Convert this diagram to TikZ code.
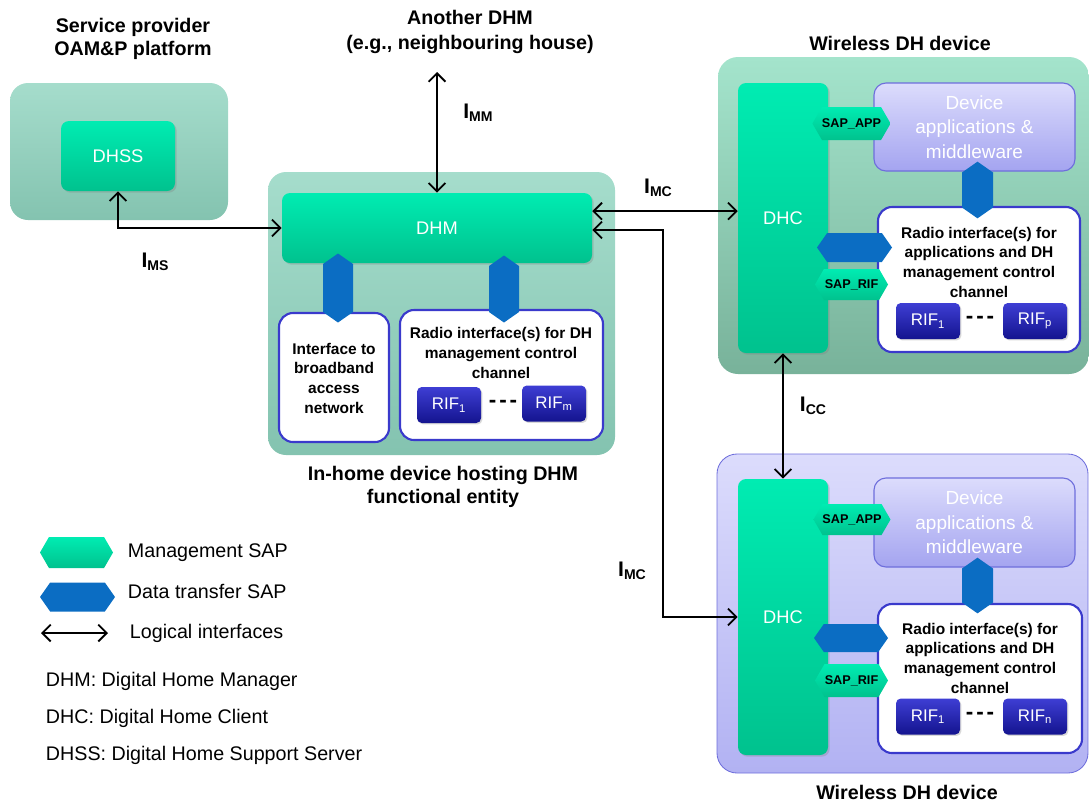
\documentclass[tikz,border=0pt]{standalone}
\usepackage{fontspec}
\setmainfont{Liberation Sans}
\usetikzlibrary{shapes.symbols, arrows.meta, shadows}

\definecolor{outerteal}{HTML}{8FD4BF}
\definecolor{mgttop}{HTML}{00ECB2}
\definecolor{mgtbot}{HTML}{00C28E}
\definecolor{datablue}{HTML}{0B6DC3}
\definecolor{rifblue}{HTML}{1C1CCC}
\definecolor{radioedge}{HTML}{3A3ACC}
\definecolor{lavtop}{HTML}{DCDCFC}
\definecolor{lavbot}{HTML}{A4A4F0}
\definecolor{lavedge}{HTML}{6E6EDC}
\definecolor{devtop}{HTML}{A4E4CC}
\definecolor{devbot}{HTML}{78B29A}

\newcommand{\pxl}{0.025cm}
\newcommand{\ifsub}[2]{\textbf{#1}\raisebox{-2pt}{\fontsize{10}{10}\selectfont\bfseries #2}}

\tikzset{
  sz/.style 2 args={minimum width=#1*\pxl, minimum height=#2*\pxl, inner sep=0pt},
  platform/.style={rounded corners=0.45cm, top color=outerteal!80!white, bottom color=outerteal!92!black},
  entity/.style={rounded corners=0.2cm, top color=mgttop, bottom color=mgtbot, text=white,
    font=\fontsize{13}{15}\selectfont, drop shadow={opacity=0.3, shadow xshift=1.2pt, shadow yshift=-1.2pt}},
  radiobox/.style={rounded corners=0.35cm, draw=radioedge, line width=1.5pt, fill=white},
  rif/.style={sz={64}{36}, rounded corners=0.12cm, top color=rifblue!85!white, bottom color=rifblue!70!black,
    text=white, font=\fontsize{12}{12}\selectfont, drop shadow={opacity=0.3, shadow xshift=1pt, shadow yshift=-1pt}},
  appbox/.style={rounded corners=0.3cm, draw=lavedge, line width=0.8pt, top color=lavtop, bottom color=lavbot,
    text=white, align=center, font=\fontsize{13.5}{17.5}\selectfont},
  mgtsap/.style={signal, signal to=east and west, signal pointer angle=120, top color=mgttop, bottom color=mgtbot,
    font=\fontsize{9}{9}\selectfont\bfseries},
  datasap/.style={signal, signal pointer angle=110, fill=datablue},
  logif/.style={{Straight Barb[length=6pt, width=12pt]}-{Straight Barb[length=6pt, width=12pt]}, line width=1.3pt},
  title/.style={font=\fontsize{14}{16}\selectfont\bfseries, align=center},
  boxtxt/.style={font=\fontsize{11}{14}\selectfont\bfseries, align=center},
  legendtxt/.style={font=\fontsize{14}{16}\selectfont, anchor=west},
  ilabel/.style={font=\fontsize{15}{15}\selectfont},
  dashes/.style={font=\fontsize{16}{16}\selectfont\bfseries}
}

\begin{document}
\begin{tikzpicture}[x=0.025cm, y=-0.025cm]
  \useasboundingbox (0,0) rectangle (1089,805);

  % Service provider platform
  \node[platform, sz={218}{137}] (spplat) at (119,151.5) {};
  \node[title] (sptitle) at (133,39) {Service provider\\OAM\&P platform};
  \node[entity, sz={114}{70}] (dhss) at (118,156) {DHSS};

  % In-home device
  \node[platform, sz={347}{283}] (inhome) at (441.5,313.5) {};
  \node[title] (inhometitle) at (443,487) {In-home device hosting DHM\\functional entity};
  \node[entity, sz={310}{70}] (dhm) at (437,228) {DHM};
  \node[radiobox, sz={110}{129}] (bbif) at (334,377.5) {};
  \node[boxtxt] (bbiftxt) at (334,378) {Interface to\\broadband\\access\\network};
  \node[radiobox, sz={203}{130}] (radioM) at (501.5,375) {};
  \node[boxtxt] (radioMtxt) at (501,353) {Radio interface(s) for DH\\management control\\channel};
  \node[rif] (rifM1) at (449,405) {RIF\textsubscript{1}};
  \node[dashes] (dotsM) at (503,404) {-\hspace{2pt}-\hspace{2pt}-};
  \node[rif] (rifMm) at (554,403.5) {RIF\textsubscript{m}};
  \node[datasap, signal to=north and south, sz={30}{48}] (dsapL) at (338,288) {};
  \node[datasap, signal to=north and south, sz={30}{46}] (dsapR) at (504,289) {};

  % Wireless DH device (top)
  \node[rounded corners=0.5cm, top color=devtop, bottom color=devbot, sz={371}{317}] (wdevA) at (903.5,215.5) {};
  \node[title] (wdevAtitle) at (900,43) {Wireless DH device};
  \node[entity, sz={90}{270}] (dhcA) at (783,218) {DHC};
  \node[appbox, sz={201}{88}] (appA) at (974.5,127) {Device\\applications \&\\middleware};
  \node[radiobox, sz={202}{145}] (radioA) at (979,279.5) {};
  \node[boxtxt] (radioAtxt) at (979,262) {Radio interface(s) for\\applications and DH\\management control\\channel};
  \node[rif] (rifA1) at (928,321) {RIF\textsubscript{1}};
  \node[dashes] (dotsA) at (980,320) {-\hspace{2pt}-\hspace{2pt}-};
  \node[rif] (rifAp) at (1035,321) {RIF\textsubscript{p}};
  \node[datasap, signal to=north and south, sz={31}{35}] (dsapA) at (977.5,190) {};
  \node[datasap, signal to=east and west, sz={75}{29}] (dsapAh) at (854.5,247.5) {};
  \node[mgtsap, sz={73}{33}] (sapappA) at (851.5,123.5) {SAP\_APP};
  \node[mgtsap, sz={73}{31}] (saprifA) at (851.5,284.5) {SAP\_RIF};

  % Wireless DH device (bottom)
  \node[rounded corners=0.5cm, draw=lavedge, line width=0.6pt, top color=lavtop, bottom color=lavbot!85!white,
    sz={371}{319}] (wdevB) at (902.5,613.5) {};
  \node[title] (wdevBtitle) at (907,792) {Wireless DH device};
  \node[entity, sz={90}{276}] (dhcB) at (783,617) {DHC};
  \node[appbox, sz={201}{89}] (appB) at (974.5,522.5) {Device\\applications \&\\middleware};
  \node[radiobox, sz={204}{149}] (radioB) at (980,678.5) {};
  \node[boxtxt] (radioBtxt) at (980,658) {Radio interface(s) for\\applications and DH\\management control\\channel};
  \node[rif] (rifB1) at (928,716.5) {RIF\textsubscript{1}};
  \node[dashes] (dotsB) at (980,716) {-\hspace{2pt}-\hspace{2pt}-};
  \node[rif] (rifBn) at (1035,716.5) {RIF\textsubscript{n}};
  \node[datasap, signal to=north and south, sz={31}{34}] (dsapB) at (977.5,585.5) {};
  \node[datasap, signal to=east and west, sz={74}{28}] (dsapBh) at (851,638) {};
  \node[mgtsap, sz={73}{31}] (sapappB) at (852,519.5) {SAP\_APP};
  \node[mgtsap, sz={73}{33}] (saprifB) at (851.5,680.5) {SAP\_RIF};

  % Another DHM
  \node[title, font=\fontsize{14}{18}\selectfont\bfseries] (anothertitle) at (470,32) {Another DHM\\(e.g., neighbouring house)};
  \coordinate (anotherdhm) at (437,72);

  % Logical interfaces
  \draw[logif] (dhss.south) |- (dhm.west);
  \draw[logif] (anotherdhm) -- (dhm.north);
  \draw[logif] ([yshift=12pt]dhm.east) -- ([yshift=12pt]dhm.east -| dhcA.west);
  \draw[logif] ([yshift=-1.4pt]dhm.east) -- ++(71,0) |- (dhcB.west);
  \draw[logif] (dhcA.south) -- (dhcB.north);

  \node[ilabel] (ims) at (155,262) {\ifsub{I}{MS}};
  \node[ilabel] (imm) at (478,113) {\ifsub{I}{MM}};
  \node[ilabel] (imcA) at (658,188) {\ifsub{I}{MC}};
  \node[ilabel] (imcB) at (632,571) {\ifsub{I}{MC}};
  \node[ilabel] (icc) at (813,406) {\ifsub{I}{CC}};

  % Legend
  \node[mgtsap, sz={73}{31}] (lgmgt) at (76.5,552.5) {};
  \node[legendtxt] (lgmgttxt) at (123,553) {Management SAP};
  \node[datasap, signal to=east and west, sz={75}{29}] (lgdata) at (77.5,597) {};
  \node[legendtxt] (lgdatatxt) at (123,591) {Data transfer SAP};
  \coordinate (lgL) at (41,633);
  \coordinate (lgR) at (108,633);
  \draw[logif] (lgL) -- (lgR);
  \node[legendtxt] (lglogtxt) at (125,633) {Logical interfaces};
  \node[legendtxt] (abbrdhm) at (41,681) {DHM: Digital Home Manager};
  \node[legendtxt] (abbrdhc) at (41,718) {DHC: Digital Home Client};
  \node[legendtxt] (abbrdhss) at (41,755) {DHSS: Digital Home Support Server};
\end{tikzpicture}
\end{document}
